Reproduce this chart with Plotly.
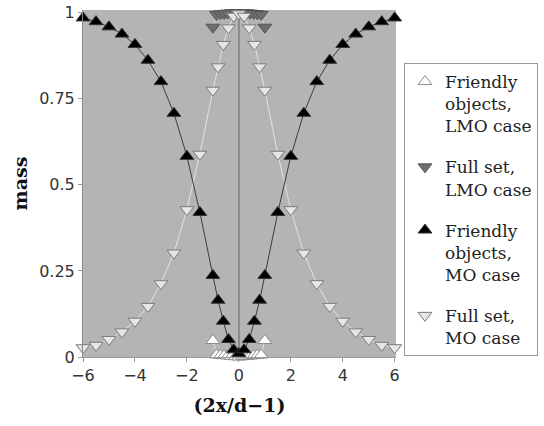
import plotly.graph_objects as go

# ---- data ----
x_mo = [-6, -5.5, -5, -4.5, -4, -3.5, -3, -2.5, -2, -1.5, -1, -0.8, -0.6, -0.4, -0.2, 0,
        0.2, 0.4, 0.6, 0.8, 1, 1.5, 2, 2.5, 3, 3.5, 4, 4.5, 5, 5.5, 6]
friendly_mo = [0.985, 0.974, 0.959, 0.938, 0.908, 0.862, 0.80, 0.708, 0.583, 0.42, 0.237, 0.165, 0.104, 0.051, 0.021, 0.01,
               0.021, 0.051, 0.104, 0.165, 0.237, 0.42, 0.583, 0.708, 0.80, 0.862, 0.908, 0.938, 0.959, 0.974, 0.985]
full_mo = [0.027, 0.034, 0.051, 0.073, 0.104, 0.147, 0.213, 0.302, 0.428, 0.589, 0.775, 0.843, 0.908, 0.956, 0.99, 0.997,
           0.99, 0.956, 0.908, 0.843, 0.775, 0.589, 0.428, 0.302, 0.213, 0.147, 0.104, 0.073, 0.051, 0.034, 0.027]

x_lmo = [-1, -0.86, -0.71, -0.57, -0.43, -0.29, -0.14, 0, 0.14, 0.29, 0.43, 0.57, 0.71, 0.86, 1]
friendly_lmo = [0.048, 0.006, 0.005, 0.004, 0.003, 0.002, 0.001, 0.0,
                0.001, 0.002, 0.003, 0.004, 0.005, 0.006, 0.048]
full_lmo = [0.958, 0.995, 0.997, 0.998, 0.999, 1.0, 1.0, 1.0,
            1.0, 1.0, 0.999, 0.998, 0.997, 0.995, 0.958]

x_ticks = [-6, -4, -2, 0, 2, 4, 6]
x_tick_text = ["\u22126", "\u22124", "\u22122", "0", "2", "4", "6"]
y_ticks = [0, 0.25, 0.5, 0.75, 1]
y_tick_text = ["0", "0.25", "0.5", "0.75", "1"]

names = ["Friendly<br>objects,<br>LMO case", "Full set,<br>LMO case",
         "Friendly<br>objects,<br>MO case", "Full set,<br>MO case"]

fig = go.Figure()

series = [
    # x, y, name, symbol, fill, outline, line colour, legend rank
    (x_lmo, friendly_lmo, names[0], "triangle-up", "#ffffff", "#8a8a8a", "#e2e2e2", 1),
    (x_lmo, full_lmo, names[1], "triangle-down", "#6e6e6e", "#555555", "#d0d0d0", 2),
    (x_mo, full_mo, names[3], "triangle-down", "#e6e6e6", "#7a7a7a", "#e4e4e4", 4),
    (x_mo, friendly_mo, names[2], "triangle-up", "#000000", "#333333", "#3c3c3c", 3),
]

for xs, ys, nm, sym, fillc, outc, linec, rank in series:
    fig.add_trace(go.Scatter(
        x=xs, y=ys, mode="lines", showlegend=False, hoverinfo="skip",
        line=dict(color=linec, width=1), cliponaxis=False))
for xs, ys, nm, sym, fillc, outc, linec, rank in series:
    fig.add_trace(go.Scatter(
        x=xs, y=ys, mode="markers", name=nm, legendrank=rank, legendgroup="g%d" % rank,
        cliponaxis=False,
        marker=dict(symbol=sym, size=12, color=fillc, line=dict(color=outc, width=1))))

fig.update_layout(
    width=544, height=426,
    margin=dict(l=83, r=148, t=10, b=69, autoexpand=False),
    paper_bgcolor="#ffffff",
    plot_bgcolor="#b4b4b4",
    font=dict(family="DejaVu Sans", size=15, color="#333333"),
    legend=dict(
        xref="container", yref="container",
        x=404 / 544, xanchor="left", y=(426 - 356) / 426, yanchor="bottom",
        bordercolor="#9a9a9a", borderwidth=1, bgcolor="#ffffff",
        font=dict(family="DejaVu Serif", size=17, color="#222222"),
        traceorder="grouped", tracegroupgap=16, valign="top",
        maxheight=400,
    ),
    xaxis=dict(
        range=[-6, 6.05], tickmode="array", tickvals=x_ticks, ticktext=x_tick_text,
        showgrid=False, zeroline=True, zerolinecolor="#8a8a8a", zerolinewidth=1.5,
        showline=True, linecolor="#9a9a9a", linewidth=1, automargin=False,
        ticks="outside", ticklen=4, tickcolor="#9a9a9a",
        tickfont=dict(family="DejaVu Sans", size=16, color="#333333"),
        title=dict(text="<b>(2x/d\u22121)</b>", font=dict(family="DejaVu Serif", size=19, color="#111111"), standoff=14),
    ),
    yaxis=dict(
        range=[0, 1.008], tickmode="array", tickvals=y_ticks, ticktext=y_tick_text,
        showgrid=False, zeroline=False, automargin=False,
        showline=True, linecolor="#8a8a8a", linewidth=1,
        ticks="outside", ticklen=4, tickcolor="#9a9a9a",
        tickfont=dict(family="DejaVu Sans", size=16, color="#333333"),
        title=dict(text="<b>mass</b>", font=dict(family="DejaVu Serif", size=19, color="#111111"), standoff=6),
    ),
)

fig.write_html("out.html", config={"displayModeBar": False},
               post_script="document.body.style.margin='0px';")
